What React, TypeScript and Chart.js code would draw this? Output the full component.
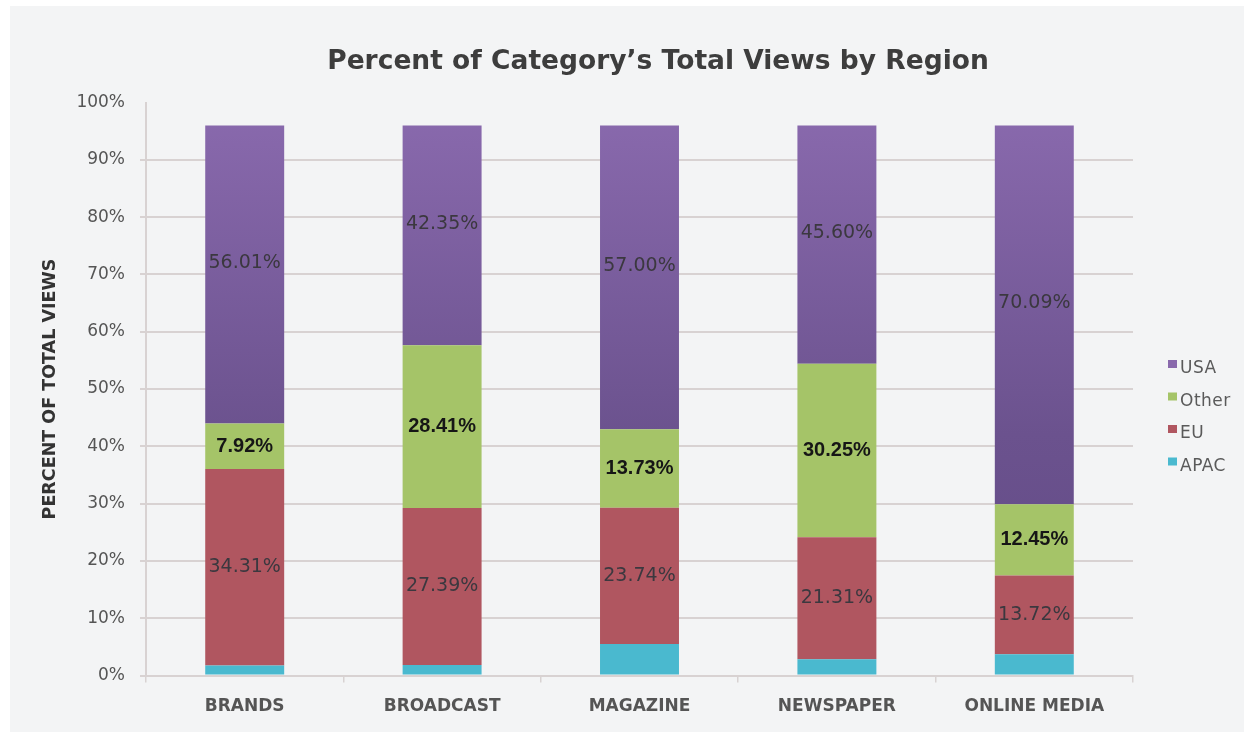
import React, { useEffect, useRef } from "react";
import { Chart, registerables } from "chart.js";

Chart.register(...registerables);

// ---------- data ----------
const categories = ["BRANDS", "BROADCAST", "MAGAZINE", "NEWSPAPER", "ONLINE MEDIA"];
const seriesNames = ["APAC", "EU", "Other", "USA"];
const apacValues = [1.76, 1.85, 5.53, 2.84, 3.74];
const euValues = [34.31, 27.39, 23.74, 21.31, 13.72];
const otherValues = [7.92, 28.41, 13.73, 30.25, 12.45];
const usaValues = [56.01, 42.35, 57.0, 45.6, 70.09];
const yTickLabels = ["0%", "10%", "20%", "30%", "40%", "50%", "60%", "70%", "80%", "90%", "100%"];
const titleText = "Percent of Category\u2019s Total Views by Region";
const yTitleText = "PERCENT OF TOTAL VIEWS";

// ---------- style ----------
const VISIBLE_TOP = 96; // bars in the source are drawn only up to 96%
const GRID = "#d8d2d2";
const COLORS = {
  APAC: "#4ab9cf",
  EU: "#b05660",
  Other: "#a5c468",
  USA: "#8969ac",
};
const FONT = "'DejaVu Sans', 'Noto Sans', sans-serif";

const clipPlugin = {
  id: "usaClip",
  beforeDatasetDraw(chart: any, args: any) {
    if (args.index !== 3) return;
    const { ctx, chartArea, scales } = chart;
    const yTop = scales.y.getPixelForValue(VISIBLE_TOP);
    ctx.save();
    ctx.beginPath();
    ctx.rect(chartArea.left, yTop, chartArea.right - chartArea.left, chartArea.bottom - yTop);
    ctx.clip();
  },
  afterDatasetDraw(chart: any, args: any) {
    if (args.index !== 3) return;
    chart.ctx.restore();
  },
};

const labelStyles: Record<number, { font: string; color: string }> = {
  1: { font: `normal 19px ${FONT}`, color: "#3b383f" },
  2: { font: `bold 20px 'Liberation Sans', Arial, sans-serif`, color: "#161616" },
  3: { font: `normal 19px ${FONT}`, color: "#3b383f" },
};

const labelPlugin = {
  id: "segLabels",
  afterDatasetsDraw(chart: any) {
    const ctx = chart.ctx;
    chart.data.datasets.forEach((ds: any, di: number) => {
      const st = labelStyles[di];
      if (!st) return;
      const meta = chart.getDatasetMeta(di);
      meta.data.forEach((bar: any, i: number) => {
        const { x, y, base } = bar.getProps(["x", "y", "base"], true);
        ctx.save();
        ctx.font = st.font;
        ctx.fillStyle = st.color;
        ctx.textAlign = "center";
        ctx.textBaseline = "middle";
        ctx.fillText(Number(ds.data[i]).toFixed(2) + "%", x, (y + base) / 2);
        ctx.restore();
      });
    });
  },
};

const decorPlugin = {
  id: "decor",
  afterDraw(chart: any) {
    const ctx = chart.ctx;
    // title
    ctx.save();
    ctx.font = `bold 26.5px ${FONT}`;
    ctx.fillStyle = "#3d3d3d";
    ctx.textAlign = "center";
    ctx.textBaseline = "middle";
    ctx.fillText(titleText, 658, 62);
    ctx.restore();
    // legend (reverse order)
    const items = chart.data.datasets
      .map((ds: any) => ({ label: ds.label, color: ds.legendColor }))
      .reverse();
    items.forEach((it: any, i: number) => {
      const cy = 369 + i * 32.5;
      ctx.save();
      ctx.fillStyle = it.color;
      ctx.fillRect(1168, cy - 9, 9, 8);
      ctx.font = `normal 17px ${FONT}`;
      (ctx as any).letterSpacing = "0.5px";
      ctx.fillStyle = "#5a5a5a";
      ctx.textAlign = "left";
      ctx.textBaseline = "middle";
      ctx.fillText(it.label, 1180, cy);
      ctx.restore();
    });
  },
};

export default function App() {
  const ref = useRef<HTMLCanvasElement | null>(null);

  useEffect(() => {
    if (!ref.current) return;
    const usaGradient = (c: any) => {
      const chart = c.chart;
      const area = chart.chartArea;
      if (!area) return COLORS.USA;
      const g = chart.ctx.createLinearGradient(0, area.top, 0, area.bottom);
      g.addColorStop(0, "#8a6aae");
      g.addColorStop(0.58, "#6b528e");
      g.addColorStop(1, "#604984");
      return g;
    };
    const valueSets = [apacValues, euValues, otherValues, usaValues];
    const chart = new Chart(ref.current, {
      type: "bar",
      data: {
        labels: categories,
        datasets: seriesNames.map((name, i) => ({
          label: name,
          data: valueSets[i],
          backgroundColor: name === "USA" ? usaGradient : (COLORS as any)[name],
          legendColor: (COLORS as any)[name],
          borderWidth: 0,
          categoryPercentage: 1,
          barPercentage: 0.4,
        })) as any,
      },
      options: {
        animation: false,
        responsive: true,
        maintainAspectRatio: false,
        layout: { padding: { top: 102.5, left: 40, right: 119, bottom: 1 } },
        plugins: {
          legend: { display: false },
          title: { display: false },
          tooltip: { enabled: false },
        },
        scales: {
          x: {
            stacked: true,
            grid: {
              display: true,
              drawOnChartArea: false,
              drawTicks: true,
              tickLength: 7,
              color: GRID,
              lineWidth: 1.5,
              offset: true,
            },
            border: { display: true, color: GRID, width: 2 },
            ticks: {
              color: "#555555",
              font: { family: FONT, size: 17, weight: "bold" },
              padding: 14,
            },
          },
          y: {
            stacked: true,
            min: 0,
            max: 100,
            ticks: {
              stepSize: 10,
              color: "#555555",
              font: { family: FONT, size: 17 },
              padding: 15,
              callback: (_v: any, i: number) => yTickLabels[i],
            },
            grid: {
              color: (c: any) => (c.tick && c.tick.value === 100 ? "rgba(0,0,0,0)" : GRID),
              lineWidth: 2,
              tickLength: 6,
              drawTicks: true,
            },
            border: { display: true, color: GRID, width: 2 },
            title: {
              display: true,
              text: yTitleText,
              color: "#333333",
              font: { family: FONT, size: 17.5, weight: "bold" },
              padding: { top: 0, bottom: 0 },
            },
            afterFit: (s: any) => {
              s.width = 106;
            },
          },
        },
      },
      plugins: [clipPlugin, labelPlugin, decorPlugin],
    } as any);
    return () => chart.destroy();
  }, []);

  return (
    <div style={{ position: "fixed", left: 0, top: 0, width: 1252, height: 732, background: "#ffffff" }}>
      <div
        style={{ position: "absolute", left: 10, top: 6, width: 1234, height: 726, background: "#f3f4f5" }}
      />
      <div style={{ position: "absolute", left: 0, top: 0, width: 1252, height: 732 }}>
        <canvas ref={ref} />
      </div>
    </div>
  );
}
